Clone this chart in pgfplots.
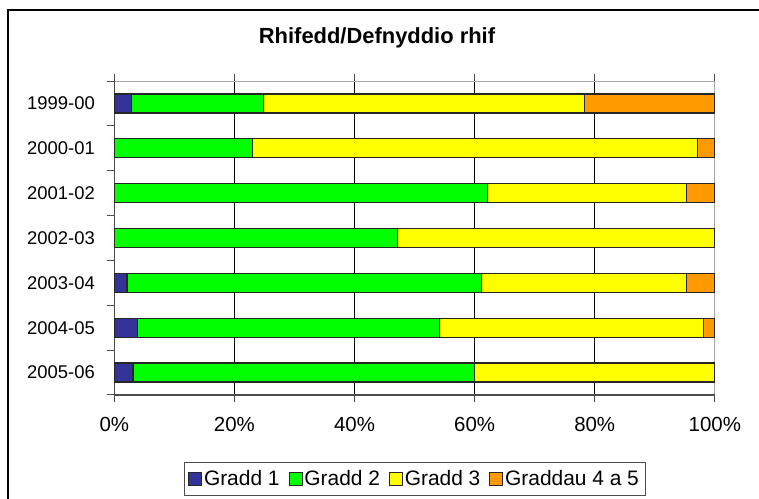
\documentclass[border=0pt]{standalone}
\usepackage{pgfplots}
\pgfplotsset{compat=1.18}
\usepackage{pgfplotstable}
\usepackage{fontspec}
\setmainfont{Liberation Sans}
\definecolor{cblue}{HTML}{333399}
\definecolor{cgreen}{HTML}{00FF00}
\definecolor{cyellow}{HTML}{FFFF00}
\definecolor{corange}{HTML}{FF9900}
\pgfplotsset{sq/.style={legend image code/.code={\draw[##1,line width=0.8bp] (0bp,-6.5bp) rectangle (13bp,6.5bp);}}}
\pgfplotstableread{
y g1 g2 g3 g45
0 2.8 22.0 53.5 21.7
1 0 23.0 74.1 2.9
2 0 62.1 33.2 4.7
3 0 47.1 52.9 0
4 2.1 59.0 34.2 4.7
5 3.8 50.3 44.0 1.9
6 3.1 56.9 40.0 0
}\datatable
\begin{document}
\begin{tikzpicture}[x=1bp,y=1bp]
\path[use as bounding box] (0,0) rectangle (759,499);
\draw[line width=2bp] (8,-10) -- (8,489) -- (775,489);
\node[font=\bfseries\fontsize{22}{26}\selectfont] at (377,461) {Rhifedd/Defnyddio rhif};
\begin{axis}[at={(114.3bp,104bp)}, anchor=south west, scale only axis,
  width=600.5bp, height=314bp,
  xbar stacked, bar width=19bp,
  xmin=0, xmax=100, ymin=-0.5, ymax=6.5, y dir=reverse,
  ytick={0,...,6},
  yticklabels={1999-00,2000-01,2001-02,2002-03,2003-04,2004-05,2005-06},
  minor ytick={-0.5,0.5,...,6.5},
  ytick pos=left,
  xtick={0,20,...,100},
  xticklabels={0\%,20\%,40\%,60\%,80\%,100\%},
  tick align=outside, major tick length=7bp, minor tick length=7bp,
  major y tick style={draw=none},
  minor y tick style={draw=black!70, line width=1bp},
  major x tick style={draw=black!70, line width=1bp},
  xmajorgrids, major grid style={draw=black, line width=0.9bp},
  axis line style={draw=black!35, line width=1bp},
  xticklabel style={font=\fontsize{20.5}{24}\selectfont, yshift=-12bp},
  yticklabel style={font=\fontsize{18.5}{22}\selectfont, xshift=-9bp},
  legend style={at={(0.5,-0.2675)}, anchor=center, legend columns=-1,
    draw=black!70, line width=0.8bp, font=\fontsize{21}{24}\selectfont,
    inner xsep=4bp, inner ysep=6bp,
    /tikz/every odd column/.append style={column sep=0bp},
    /tikz/every even column/.append style={column sep=7bp}},
  clip=false,
]
\addplot[fill=cblue, draw=black!85, line width=1.2bp, sq] table[x=g1,y=y]{\datatable};
\addplot[fill=cgreen, draw=black!85, line width=1.2bp, sq] table[x=g2,y=y]{\datatable};
\addplot[fill=cyellow, draw=black!85, line width=1.2bp, sq] table[x=g3,y=y]{\datatable};
\addplot[fill=corange, draw=black!85, line width=1.2bp, sq] table[x=g45,y=y]{\datatable};
\legend{Gradd 1,Gradd 2,Gradd 3,Graddau 4 a 5}
\draw[black!70, line width=1.2bp] (axis description cs:0,1) -- (axis description cs:0,0) -- (axis description cs:1,0);
\end{axis}
\end{tikzpicture}
\end{document}
